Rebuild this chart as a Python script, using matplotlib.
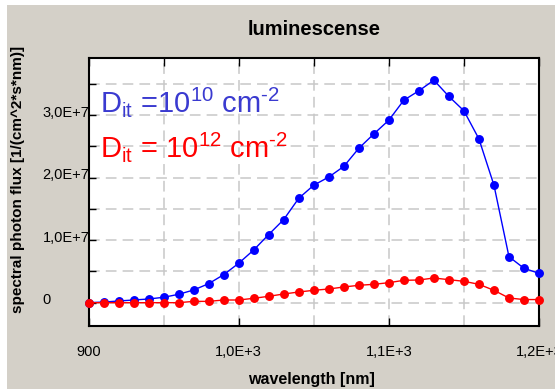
import matplotlib
matplotlib.use("Agg")
import matplotlib.pyplot as plt
from matplotlib.patches import Rectangle
from matplotlib.transforms import ScaledTranslation

# ---- data ----
wavelength = [900, 910, 920, 930, 940, 950, 960, 970, 980, 990, 1000,
              1010, 1020, 1030, 1040, 1050, 1060, 1070, 1080, 1090, 1100,
              1110, 1120, 1130, 1140, 1150, 1160, 1170, 1180, 1190, 1200]
flux_dit10 = [0.0, 0.1, 0.27, 0.43, 0.59, 0.86, 1.34, 2.03, 3.04, 4.48, 6.3,
              8.43, 10.9, 13.3, 16.7, 18.8, 20.1, 21.8, 24.7, 27.0, 29.2,
              32.4, 33.9, 35.6, 33.0, 30.7, 26.2, 18.8, 7.36, 5.5, 4.7]   # x1e6
flux_dit12 = [0.0, 0.0, 0.0, 0.0, 0.0, 0.0, 0.0, 0.21, 0.21, 0.43, 0.43,
              0.7, 1.02, 1.39, 1.71, 1.98, 2.19, 2.51, 2.78, 2.94, 3.2,
              3.58, 3.63, 3.95, 3.68, 3.42, 2.94, 1.98, 0.75, 0.5, 0.5]   # x1e6
x_major = [900, 1000, 1100, 1200]
x_major_labels = ["900", "1,0E+3", "1,1E+3", "1,2E+3"]
x_minor = [950, 1050, 1150]
y_major = [0, 1e7, 2e7, 3e7]
y_major_labels = ["0", "1,0E+7", "2,0E+7", "3,0E+7"]
y_minor = [5e6, 1.5e7, 2.5e7, 3.5e7]

title = "luminescense"
xlabel = "wavelength [nm]"
ylabel = "spectral photon flux [1/(cm^2*s*nm)]"

plt.rcParams['font.family'] = ['Liberation Sans', 'DejaVu Sans']
plt.rcParams['mathtext.fontset'] = 'custom'
plt.rcParams['mathtext.rm'] = 'Liberation Sans'
plt.rcParams['mathtext.it'] = 'Liberation Sans'

BG = '#d4d0c8'
fig = plt.figure(figsize=(5.55, 3.89), dpi=100, facecolor='white')
fig.patches.append(Rectangle((7/555, 0), 1 - 7/555, (389 - 5)/389,
                             transform=fig.transFigure, facecolor=BG,
                             edgecolor='none', zorder=-10))

W, H = 555, 389
L, R, T, B = 88.5, 539, 58.3, 326
ax = fig.add_axes([L/W, (H-B)/H, (R-L)/W, (B-T)/H])
ax.set_facecolor('white')

y10 = [v * 1e6 for v in flux_dit10]
y12 = [v * 1e6 for v in flux_dit12]
ax.plot(wavelength, y10, color='#0000ff', lw=1.0, marker='o', ms=5.4,
        clip_on=False, zorder=3)
ax.plot(wavelength, y12, color='#ff0000', lw=1.0, marker='o', ms=5.4,
        clip_on=False, zorder=4)

ax.set_xlim(900, 1200)
ax.set_ylim(-3.73e6, 39.1e6)

ax.set_xticks(x_major)
ax.set_xticklabels(x_major_labels, fontsize=10.5)
ax.set_xticks(x_minor, minor=True)
ax.set_yticks(y_major)
ax.set_yticklabels(y_major_labels, fontsize=10.5)
ax.set_yticks(y_minor, minor=True)

ax.tick_params(axis='x', which='major', direction='in', length=6, width=1,
               top=True, bottom=True, pad=14, colors='black')
ax.tick_params(axis='x', which='minor', direction='in', length=6, width=1,
               top=True, bottom=False)
ax.tick_params(axis='y', which='both', direction='in', length=5, width=1,
               left=True, right=False)
ax.tick_params(axis='y', which='major', pad=33)
offset = ScaledTranslation(0, 4/100, fig.dpi_scale_trans)
for lab in ax.get_yticklabels():
    lab.set_horizontalalignment('left')
    lab.set_transform(lab.get_transform() + offset)

ax.set_axisbelow(True)
ax.grid(True, which='both', color='#c8c8c8', lw=1.1, linestyle=(0, (7, 4)))

for s in ax.spines.values():
    s.set_linewidth(1.5)
    s.set_color('black')

ax.set_title(title, fontsize=14.5, fontweight='bold', pad=17)
ax.set_xlabel(xlabel, fontsize=11.5, fontweight='bold')
ax.xaxis.set_label_coords(0.496, -0.17)
ax.set_ylabel(ylabel, fontsize=11, fontweight='bold')
ax.yaxis.set_label_coords(-0.14, 0.549)

ax.text(0.0255, 0.797, r'D$_{\mathrm{it}}$ =10$^{10}$ cm$^{\text{-2}}$',
        transform=ax.transAxes, fontsize=21, color='#3a3ad0',
        va='baseline', ha='left', zorder=5)
ax.text(0.0255, 0.631, r'D$_{\mathrm{it}}$ = 10$^{12}$ cm$^{\text{-2}}$',
        transform=ax.transAxes, fontsize=21, color='#ff0000',
        va='baseline', ha='left', zorder=5)

fig.savefig('out.png', dpi=100, facecolor=fig.get_facecolor())
